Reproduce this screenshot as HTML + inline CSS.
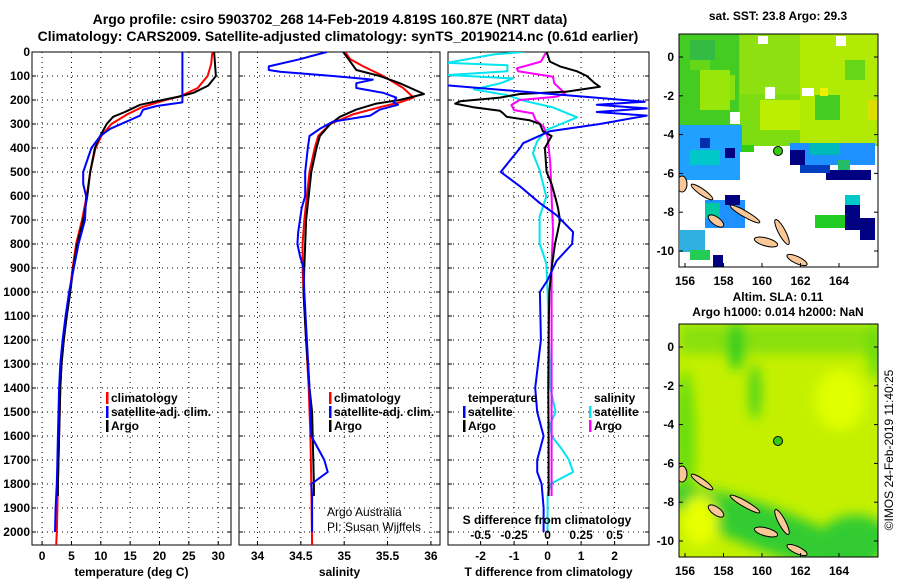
<!DOCTYPE html>
<html><head><meta charset="utf-8">
<style>
html,body{margin:0;padding:0;background:#fff;}
svg{display:block;font-family:"Liberation Sans",sans-serif;}
.tk{font-size:12px;font-weight:bold;fill:#000;}
.cr{font-size:12px;font-weight:normal;fill:#000;}
.grid{stroke:#000;stroke-width:1;stroke-dasharray:1,4;fill:none;}
.frame{fill:none;stroke:#000;stroke-width:1;}
</style></head>
<body>
<svg id="chart" width="900" height="580" viewBox="0 0 900 580">
<defs>
<clipPath id="c1"><rect x="32" y="52" width="199" height="493"/></clipPath>
<clipPath id="c2"><rect x="239" y="52" width="201" height="493"/></clipPath>
<clipPath id="c3"><rect x="448" y="52" width="201" height="493"/></clipPath>
<clipPath id="m1"><rect x="679" y="34" width="199" height="233"/></clipPath>
<clipPath id="m2"><rect x="679" y="324" width="199" height="233"/></clipPath>
<filter id="bl"><feGaussianBlur stdDeviation="6"/></filter>
</defs>
<text x="330" y="24" text-anchor="middle" font-size="14" font-weight="bold">Argo profile: csiro 5903702_268 14-Feb-2019 4.819S 160.87E (NRT data)</text>
<text x="338" y="41" text-anchor="middle" font-size="14" font-weight="bold">Climatology: CARS2009. Satellite-adjusted climatology: synTS_20190214.nc (0.61d earlier)</text>
<g id="panels"></g>

<!-- SST map -->
<g>
<text x="778" y="20" text-anchor="middle" class="tk">sat. SST: 23.8 Argo: 29.3</text>
<g clip-path="url(#m1)">
<rect x="679" y="34" width="199" height="233" fill="#fff"/>
<rect x="679" y="34" width="199" height="112" fill="#7ddd10"/>
<rect x="679" y="34" width="60" height="95" fill="#44cc22"/>
<rect x="690" y="50" width="20" height="20" fill="#66d618"/>
<rect x="715" y="75" width="20" height="25" fill="#88e010"/>
<rect x="740" y="34" width="60" height="60" fill="#8ee010"/>
<rect x="800" y="34" width="78" height="110" fill="#b0ea05"/>
<rect x="760" y="100" width="40" height="30" fill="#bbee00"/>
<rect x="815" y="95" width="25" height="25" fill="#44cc22"/>
<rect x="845" y="60" width="20" height="20" fill="#66d618"/>
<rect x="700" y="70" width="30" height="40" fill="#99e60a"/>
<rect x="690" y="40" width="25" height="20" fill="#33bb44"/>
<rect x="820" y="88" width="8" height="8" fill="#eeee00"/>
<rect x="868" y="100" width="10" height="20" fill="#dddd00"/>
<rect x="758" y="36" width="10" height="8" fill="#fff"/>
<rect x="765" y="87" width="10" height="12" fill="#fff"/>
<rect x="802" y="88" width="12" height="8" fill="#fff"/>
<rect x="730" y="112" width="10" height="12" fill="#fff"/>
<rect x="836" y="36" width="10" height="10" fill="#fff"/>
<rect x="679" y="125" width="63" height="55" fill="#20a0ff"/>
<rect x="690" y="150" width="30" height="15" fill="#00c8c8"/>
<rect x="725" y="148" width="10" height="10" fill="#000080"/>
<rect x="700" y="138" width="10" height="10" fill="#0030b0"/>
<rect x="742" y="145" width="12" height="10" fill="#33cc11"/>
<rect x="740" y="152" width="50" height="28" fill="#fff"/>
<rect x="790" y="143" width="85" height="22" fill="#1e90ff"/>
<rect x="810" y="143" width="30" height="12" fill="#00b8b8"/>
<rect x="790" y="150" width="15" height="15" fill="#000080"/>
<rect x="826" y="170" width="45" height="12" fill="#000080"/>
<rect x="800" y="165" width="30" height="8" fill="#0040c0"/>
<rect x="838" y="160" width="12" height="10" fill="#22bb66"/>
<rect x="740" y="180" width="138" height="87" fill="#fff"/>
<rect x="679" y="180" width="61" height="87" fill="#fff"/>
<rect x="705" y="200" width="40" height="28" fill="#1e90ff"/>
<rect x="705" y="203" width="15" height="15" fill="#00c8a0"/>
<rect x="725" y="195" width="15" height="10" fill="#000080"/>
<rect x="680" y="230" width="25" height="22" fill="#30b0e0"/>
<rect x="690" y="250" width="20" height="10" fill="#22cc55"/>
<rect x="713" y="255" width="10" height="12" fill="#000080"/>
<rect x="845" y="195" width="15" height="10" fill="#00c8c8"/>
<rect x="845" y="205" width="15" height="25" fill="#000080"/>
<rect x="815" y="215" width="30" height="13" fill="#22cc22"/>
<rect x="860" y="218" width="15" height="22" fill="#000080"/>
<g fill="#f9c896" stroke="#000" stroke-width="1">
<ellipse cx="702" cy="192" rx="13" ry="3" transform="rotate(35 702 192)"/>
<ellipse cx="745" cy="214" rx="17" ry="3" transform="rotate(30 745 214)"/>
<ellipse cx="716" cy="221" rx="9" ry="4" transform="rotate(35 716 221)"/>
<ellipse cx="782" cy="232" rx="14" ry="3.5" transform="rotate(62 782 232)"/>
<ellipse cx="766" cy="242" rx="12" ry="4" transform="rotate(15 766 242)"/>
<ellipse cx="797" cy="260" rx="11" ry="3.5" transform="rotate(25 797 260)"/>
<ellipse cx="682" cy="184" rx="5" ry="8"/>
</g>
<circle cx="778" cy="151" r="4.5" fill="#33cc11" stroke="#000" stroke-width="1"/>
</g>
<rect x="679" y="34" width="199" height="233" class="frame"/>
</g>

<!-- SLA map -->
<g>
<text x="778" y="301" text-anchor="middle" class="tk">Altim. SLA: 0.11</text>
<text x="778" y="316" text-anchor="middle" class="tk">Argo h1000: 0.014 h2000: NaN</text>
<g clip-path="url(#m2)">
<rect x="679" y="324" width="199" height="233" fill="#c4f000"/>
<g filter="url(#bl)">
<rect x="679" y="324" width="199" height="30" fill="#88e010"/>
<ellipse cx="736" cy="345" rx="8" ry="25" fill="#22cc22"/>
<ellipse cx="755" cy="392" rx="5" ry="28" fill="#33cc22"/>
<ellipse cx="685" cy="440" rx="10" ry="70" fill="#66dd11"/>
<ellipse cx="770" cy="530" rx="110" ry="22" fill="#33cc33" transform="rotate(20 770 530)"/>
<ellipse cx="855" cy="540" rx="35" ry="25" fill="#33cc33"/>
<ellipse cx="840" cy="400" rx="25" ry="30" fill="#e0ff00"/>
<ellipse cx="700" cy="520" rx="18" ry="25" fill="#e8ff00"/>
<ellipse cx="876" cy="350" rx="8" ry="30" fill="#66dd11"/>
</g>
<g fill="#f9c896" stroke="#000" stroke-width="1">
<ellipse cx="702" cy="482" rx="13" ry="3" transform="rotate(35 702 482)"/>
<ellipse cx="745" cy="504" rx="17" ry="3" transform="rotate(30 745 504)"/>
<ellipse cx="716" cy="511" rx="9" ry="4" transform="rotate(35 716 511)"/>
<ellipse cx="782" cy="522" rx="14" ry="3.5" transform="rotate(62 782 522)"/>
<ellipse cx="766" cy="532" rx="12" ry="4" transform="rotate(15 766 532)"/>
<ellipse cx="797" cy="550" rx="11" ry="3.5" transform="rotate(25 797 550)"/>
<ellipse cx="682" cy="474" rx="5" ry="8"/>
</g>
<circle cx="778" cy="441" r="4.5" fill="#33cc11" stroke="#000" stroke-width="1"/>
</g>
<rect x="679" y="324" width="199" height="233" class="frame"/>
</g>
<text transform="translate(893,450) rotate(-90)" text-anchor="middle" font-size="12">©IMOS 24-Feb-2019 11:40:25</text>
</svg>
<script>
// ---- data ----
var tempTicks = [0,5,10,15,20,25,30];
var salTicks = [34,34.5,35,35.5,36];
var salTickLabels = ["34","34.5","35","35.5","36"];
var tdTicks = [-2,-1,0,1,2];
var sdTicks = [-0.5,-0.25,0,0.25,0.5];
var sdTickLabels = ["-0.5","-0.25","0","0.25","0.5"];
var depthTicks = [0,100,200,300,400,500,600,700,800,900,1000,1100,1200,1300,1400,1500,1600,1700,1800,1900,2000];
var lonTicks = [156,158,160,162,164];
var latTicks = [0,-2,-4,-6,-8,-10];

var tClimDepth = [0,50,100,150,185,200,230,260,300,350,400,500,600,700,800,900,1000,1100,1200,1300,1400,1500,1600,1700,1800,1900,2000,2055];
var tClimVal = [29.0,28.8,28.2,26.5,23.5,21,17,14.5,11.8,10.1,9.1,8.2,7.6,6.8,5.8,5.2,4.7,4.1,3.7,3.3,3.1,3.0,2.9,2.8,2.7,2.6,2.5,2.4];
var tSatDepth = [0,210,225,240,265,290,320,350,370,400,450,500,550,600,700,800,900,1000,1100,1200,1300,1400,1500,1600,1700,1800,1900,2000];
var tSatVal = [23.9,23.9,19.5,17.2,16.7,14.4,11.6,9.9,9.3,8.4,7.7,7.0,7.0,7.5,7.3,6.2,5.4,4.6,4.0,3.5,3.1,2.9,2.8,2.7,2.6,2.5,2.3,2.2];
var tArgoDepth = [0,100,140,170,185,205,220,250,270,300,350,400,500,600,700,800,900,1000,1100,1200,1300,1400,1500,1600,1700,1800,1850];
var tArgoVal = [29.3,29.6,28.3,25.8,23.5,19.5,16.7,14.1,12.1,11.0,9.9,9.0,8.2,7.7,7.0,6.0,5.3,4.8,4.2,3.7,3.3,3.1,3.0,2.9,2.8,2.7,2.7];

var sClimDepth = [0,30,60,100,150,190,210,230,260,300,350,400,500,600,700,800,900,1000,1200,1400,1600,1800,2055];
var sClimVal = [35.01,35.07,35.22,35.45,35.68,35.8,35.64,35.41,35.1,34.84,34.7,34.66,34.6,34.57,34.54,34.52,34.52,34.53,34.56,34.59,34.61,34.62,34.63];
var sSatDepth = [0,15,30,60,75,82,100,115,130,150,170,190,210,220,240,265,290,320,350,400,500,600,650,750,800,850,900,1000,1200,1400,1600,1700,1750,1800,1850,2000];
var sSatVal = [34.80,34.64,34.49,34.13,34.13,34.26,34.87,35.33,35.14,35.14,35.45,35.6,35.57,35.62,35.41,35.3,34.87,34.72,34.6,34.58,34.55,34.55,34.51,34.47,34.46,34.49,34.53,34.54,34.57,34.6,34.62,34.77,34.81,34.62,34.63,34.63];
var sArgoDepth = [0,75,100,130,175,200,215,240,270,300,350,400,500,600,700,800,900,1000,1200,1400,1500,1800,1850];
var sArgoVal = [34.99,35.14,35.41,35.64,35.92,35.64,35.37,35.14,34.95,34.84,34.72,34.68,34.62,34.59,34.56,34.55,34.54,34.53,34.56,34.6,34.63,34.65,34.65];

var dtArgoDepth = [0,40,60,80,100,130,145,165,175,190,205,215,230,245,255,270,285,300,330,350,400,500,550,600,650,700,750,800,900,1000,1200,1400,1600,1850];
var dtArgoVal = [-0.03,0.07,0.37,0.87,1.17,1.41,1.56,0.57,-0.82,-1.42,-2.61,-2.76,-2.22,-1.42,-1.33,-1.22,-0.52,-0.23,-0.14,0.12,-0.08,-0.03,0.12,0.22,0.31,0.37,0.3,0.22,0.12,0.05,0.03,0.02,0.03,0.03];
var dtSatDepth = [0,130,140,207,220,235,250,265,300,330,380,400,500,560,630,680,750,800,870,950,1000,1200,1400,1500,1600,1700,1750,1800,1900,2000];
var dtSatVal = [-6,-6,-2.9,2.9,1.47,2.96,1.47,2.96,1.56,0.07,-0.73,-0.82,-1.4,-0.82,-0.23,0.27,0.76,0.73,0.27,0.0,-0.23,-0.2,-0.37,-0.31,-0.12,-0.31,-0.31,-0.18,-0.12,-0.12];
var dsSatDepth = [0,10,45,55,80,96,110,130,156,180,203,231,272,300,325,374,422,492,603,686,797,881,1000,1200,1400,1500,1550,1600,1650,1700,1750,1800,1850,2000];
var dsSatVal = [-0.18,-0.4,-0.75,-0.3,-0.3,-0.75,-0.26,-0.35,-0.55,-0.3,-0.18,0.04,0.22,0.1,-0.01,-0.08,-0.11,-0.06,-0.01,-0.06,-0.06,-0.01,0.0,0.01,0.02,0.06,0.02,0.03,0.1,0.16,0.19,0.02,0.0,0.0];
var dsArgoDepth = [0,40,68,80,103,131,172,186,193,200,221,242,256,283,311,353,464,603,742,881,1000,1400,1850];
var dsArgoVal = [-0.01,-0.05,-0.23,-0.22,0.04,0.05,0.13,0.07,-0.06,-0.21,-0.27,-0.25,-0.11,-0.09,-0.03,0.0,0.02,0.03,0.04,0.03,0.03,0.03,0.03];

// ---- scales ----
var NS = "http://www.w3.org/2000/svg";
var svg = document.getElementById('chart');
var G = document.getElementById('panels');
function yDepth(d){ return 52 + d*0.24; }
function xTemp(t){ return 42.1 + t*5.87; }
function xSal(s){ return 257.5 + (s-34)*86.7; }
function xTd(t){ return 547.6 + t*33.5; }
function xSd(s){ return 547.6 + s*134; }
function xLon(l){ return 685 + (l-156)*19.25; }
function yLat(l){ return 57 - l*19.4; }

function el(tag, attrs, parent){
  var e = document.createElementNS(NS, tag);
  for (var k in attrs) e.setAttribute(k, attrs[k]);
  (parent||G).appendChild(e);
  return e;
}
function txt(x,y,s,anchor,parent,cls){
  var t = el('text',{x:x,y:y,'text-anchor':anchor||'middle','class':cls||'tk'},parent);
  t.textContent = s;
  return t;
}

var panels = [
  {x0:32,x1:231,ticks:tempTicks,labels:tempTicks.map(String),fx:xTemp,title:"temperature (deg C)",name:'temperature',clip:'c1'},
  {x0:239,x1:440,ticks:salTicks,labels:salTickLabels,fx:xSal,title:"salinity",name:'salinity',clip:'c2'},
  {x0:448,x1:649,ticks:tdTicks,labels:tdTicks.map(String),fx:xTd,title:"T difference from climatology",name:'difference',clip:'c3'}
];
panels.forEach(function(p,i){
  var g = el('g',{});
  
  
  p.g = g;
  depthTicks.forEach(function(d){
    var y = yDepth(d);
    el('line',{x1:p.x0,x2:p.x1,y1:y,y2:y,'class':'grid'},g);
    el('line',{x1:p.x0,x2:p.x0+4,y1:y,y2:y,stroke:'#000'},g);
    el('line',{x1:p.x1-4,x2:p.x1,y1:y,y2:y,stroke:'#000'},g);
    if(i===0){
      var t = txt(30,y+4,String(d),'end',g);
      
      
    }
  });
  p.ticks.forEach(function(v,j){
    var x = p.fx(v);
    el('line',{x1:x,x2:x,y1:52,y2:545,'class':'grid'},g);
    el('line',{x1:x,x2:x,y1:541,y2:545,stroke:'#000'},g);
    var t = txt(x,560,p.labels[j],'middle',g);
    
    
  });
  var at = txt((p.x0+p.x1)/2,576,p.title,'middle',g);
  
  
  el('rect',{x:p.x0,y:52,width:p.x1-p.x0,height:493,'class':'frame'},g);
});

function series(depths, vals, fx, color, w, panel, name){
  var pts = depths.map(function(d,k){ return fx(vals[k]).toFixed(1)+','+yDepth(d).toFixed(1); }).join(' ');
  var pl = el('polyline',{points:pts,fill:'none',stroke:color,'stroke-width':w,'stroke-linejoin':'round','clip-path':'url(#'+panel.clip+')'},panel.g);
  
  
}
var P = panels;
series(tClimDepth,tClimVal,xTemp,'#ff0000',2,P[0],'temp-climatology-line');
series(tArgoDepth,tArgoVal,xTemp,'#000000',2,P[0],'temp-argo-line');
series(tSatDepth,tSatVal,xTemp,'#0000ff',2,P[0],'temp-satellite-line');
series(sClimDepth,sClimVal,xSal,'#ff0000',2,P[1],'salinity-climatology-line');
series(sArgoDepth,sArgoVal,xSal,'#000000',2,P[1],'salinity-argo-line');
series(sSatDepth,sSatVal,xSal,'#0000ff',2,P[1],'salinity-satellite-line');
series(dsSatDepth,dsSatVal,xSd,'#00e5ee',2,P[2],'s-diff-satellite-line');
series(dsArgoDepth,dsArgoVal,xSd,'#ff00ff',2,P[2],'s-diff-argo-line');
series(dtArgoDepth,dtArgoVal,xTd,'#000000',2,P[2],'t-diff-argo-line');
series(dtSatDepth,dtSatVal,xTd,'#0000ff',2,P[2],'t-diff-satellite-line');

// legends
function legend(x,y,color,label,parent){
  var g = el('g',{},parent);
  
  
  el('rect',{x:x-5,y:y-10,width:2.5,height:12,fill:color},g);
  txt(x,y,label,'start',g);
}
legend(111,402,'#ff0000','climatology',P[0].g);
legend(111,416,'#0000ff','satellite-adj. clim.',P[0].g);
legend(111,430,'#000000','Argo',P[0].g);
legend(334,402,'#ff0000','climatology',P[1].g);
legend(334,416,'#0000ff','satellite-adj. clim.',P[1].g);
legend(334,430,'#000000','Argo',P[1].g);
var lt = txt(468,402,'temperature','start',P[2].g);


var ls = txt(594,402,'salinity','start',P[2].g);


legend(468,416,'#0000ff','satellite',P[2].g);
legend(468,430,'#000000','Argo',P[2].g);
legend(594,416,'#00e5ee','satellite',P[2].g);
legend(594,430,'#ff00ff','Argo',P[2].g);
var sdt = txt(547,524,'S difference from climatology','middle',P[2].g);


sdTicks.forEach(function(v,j){
  var t = txt(xSd(v),539,sdTickLabels[j],'middle',P[2].g);
  
  
});
var c1 = txt(327,516,'Argo Australia','start',P[1].g,'cr');


var c2 = txt(327,531,'PI: Susan Wijffels','start',P[1].g,'cr');



// map ticks
[0,290].forEach(function(off){
  lonTicks.forEach(function(l){
    var x = xLon(l);
    el('line',{x1:x,x2:x,y1:263+off,y2:267+off,stroke:'#000'},svg);
    var t = txt(x,285+off,String(l),'middle',svg);
    
    
  });
  latTicks.forEach(function(l){
    var y = yLat(l)+off;
    el('line',{x1:679,x2:683,y1:y,y2:y,stroke:'#000'},svg);
    el('line',{x1:874,x2:878,y1:y,y2:y,stroke:'#000'},svg);
    var t = txt(674,y+4,String(l),'end',svg);
    
    
  });
});
</script>
</body></html>
